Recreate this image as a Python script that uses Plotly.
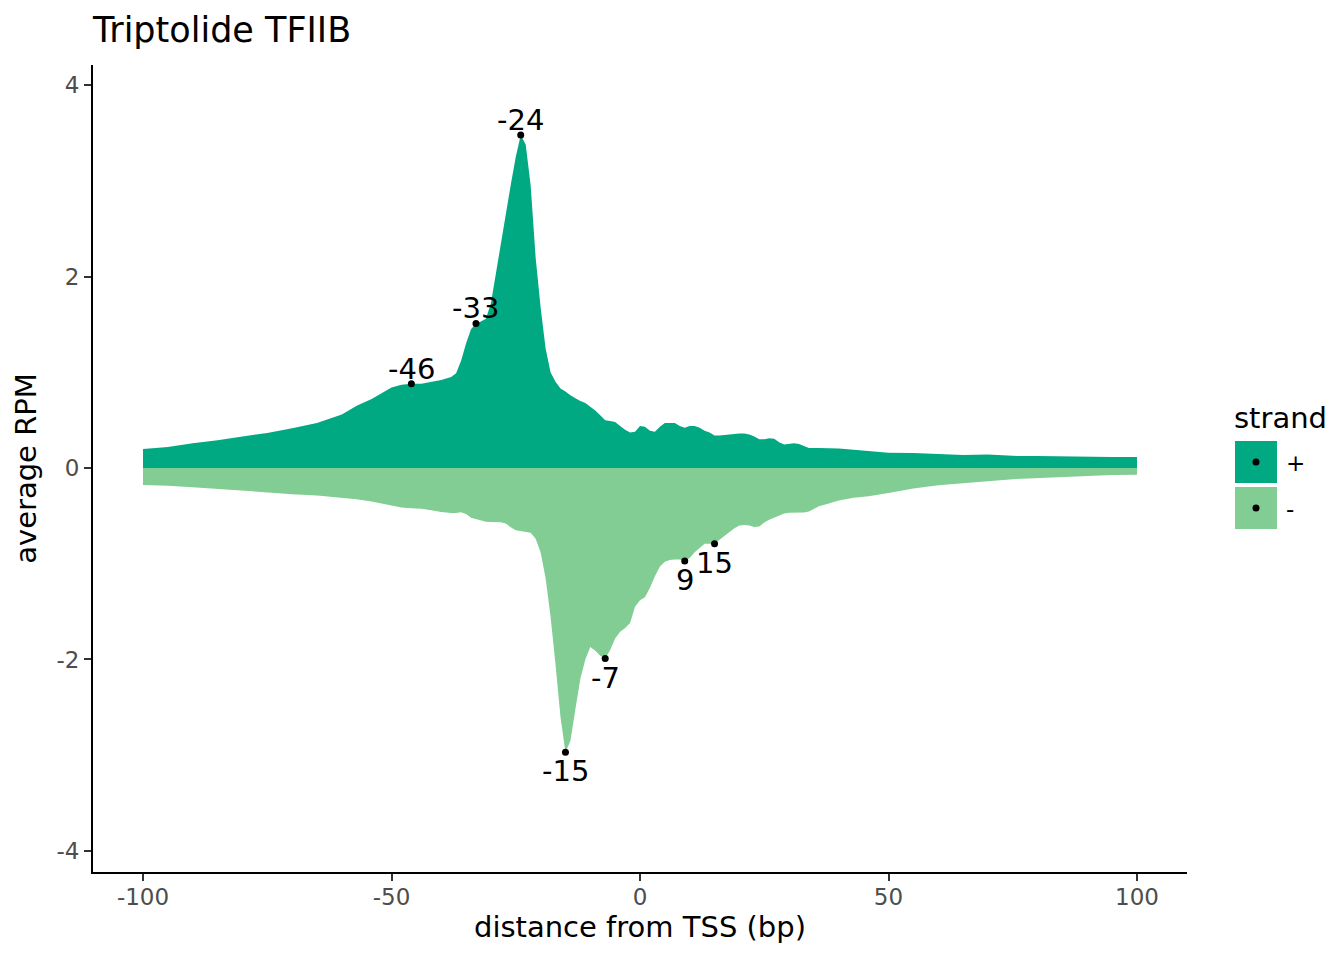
import plotly.graph_objects as go

# -- distance from TSS (bp) and average RPM per strand
position = [
    -100, -95, -90, -85, -80, -75, -70, -65, -60, -57,
    -54, -52, -50, -48, -46, -44, -42, -40, -38, -37,
    -36, -35, -34, -33, -32, -31, -30, -29, -28, -27,
    -26, -25, -24, -23, -22, -21, -20, -19, -18, -17,
    -16, -15, -14, -13, -12, -11, -10, -9, -8, -7,
    -6, -5, -4, -3, -2, -1, 0, 1, 2, 3,
    4, 5, 6, 7, 8, 9, 10, 11, 12, 13,
    14, 15, 16, 17, 18, 19, 20, 21, 22, 23,
    24, 25, 26, 27, 28, 29, 30, 31, 32, 33,
    34, 36, 38, 40, 43, 46, 50, 55, 60, 65,
    70, 75, 80, 85, 90, 95, 100,
]
plus_rpm = [
    0.20, 0.22, 0.26, 0.29, 0.33, 0.365, 0.415, 0.47, 0.56, 0.65,
    0.72, 0.78, 0.84, 0.87, 0.88, 0.88, 0.90, 0.92, 0.95, 0.99,
    1.12, 1.30, 1.45, 1.51, 1.53, 1.56, 1.72, 2.03, 2.37, 2.68,
    2.96, 3.25, 3.48, 3.38, 2.95, 2.20, 1.68, 1.25, 1.00, 0.90,
    0.83, 0.80, 0.76, 0.73, 0.70, 0.68, 0.64, 0.60, 0.55, 0.50,
    0.49, 0.48, 0.44, 0.40, 0.37, 0.38, 0.44, 0.43, 0.39, 0.38,
    0.43, 0.47, 0.47, 0.47, 0.44, 0.42, 0.44, 0.44, 0.42, 0.39,
    0.37, 0.34, 0.34, 0.345, 0.355, 0.36, 0.36, 0.36, 0.35, 0.33,
    0.30, 0.30, 0.31, 0.305, 0.27, 0.245, 0.25, 0.26, 0.25, 0.23,
    0.21, 0.21, 0.21, 0.205, 0.19, 0.175, 0.16, 0.157, 0.146, 0.136,
    0.14, 0.127, 0.125, 0.12, 0.115, 0.115, 0.115,
]
minus_rpm = [
    -0.178, -0.185, -0.20, -0.22, -0.24, -0.258, -0.273, -0.287, -0.31, -0.325,
    -0.35, -0.37, -0.395, -0.412, -0.42, -0.425, -0.44, -0.46, -0.47, -0.47,
    -0.462, -0.48, -0.52, -0.535, -0.55, -0.56, -0.565, -0.565, -0.567, -0.58,
    -0.62, -0.65, -0.66, -0.665, -0.675, -0.74, -0.88, -1.15, -1.55, -2.05,
    -2.60, -2.97, -2.85, -2.52, -2.20, -2.00, -1.87, -1.91, -1.96, -1.99,
    -1.90, -1.78, -1.71, -1.67, -1.62, -1.45, -1.38, -1.35, -1.25, -1.13,
    -1.03, -0.98, -0.96, -0.955, -0.955, -0.97, -0.94, -0.88, -0.83, -0.79,
    -0.79, -0.79, -0.75, -0.71, -0.67, -0.63, -0.60, -0.595, -0.60, -0.615,
    -0.61, -0.57, -0.54, -0.52, -0.495, -0.475, -0.466, -0.465, -0.47, -0.465,
    -0.455, -0.40, -0.37, -0.34, -0.31, -0.295, -0.26, -0.215, -0.18, -0.155,
    -0.137, -0.117, -0.105, -0.095, -0.082, -0.072, -0.07,
]

# -- labelled peaks
plus_peaks = [-46, -33, -24]
minus_peaks = [-15, -7, 9, 15]

strand_names = ["+", "-"]
strand_colors = ["#00A982", "#82CD93"]

x_tickvals = [-100, -50, 0, 50, 100]
x_ticktext = ["-100", "-50", "0", "50", "100"]
y_tickvals = [-4, -2, 0, 2, 4]
y_ticktext = ["-4", "-2", "0", "2", "4"]

FONT = "DejaVu Sans"
W, H = 1344, 960
# the page body adds 8px, so the figure is laid out 8px up/left of the target
OFF = 8
L, R, T, B = 93 - OFF, 157 + OFF, 65 - OFF, 88 + OFF

plus_lookup = dict(zip(position, plus_rpm))
minus_lookup = dict(zip(position, minus_rpm))
plus_peak_vals = [plus_lookup[p] for p in plus_peaks]
minus_peak_vals = [minus_lookup[p] for p in minus_peaks]

fig = go.Figure()

for values, color, name in zip([plus_rpm, minus_rpm], strand_colors, strand_names):
    fig.add_trace(
        go.Scatter(
            x=position,
            y=values,
            mode="lines",
            fill="tozeroy",
            fillcolor=color,
            line=dict(width=0, color=color),
            name=name,
            showlegend=False,
            hoverinfo="skip",
        )
    )

fig.add_trace(
    go.Scatter(
        x=plus_peaks + minus_peaks,
        y=plus_peak_vals + minus_peak_vals,
        mode="markers",
        marker=dict(color="black", size=7),
        showlegend=False,
    )
)

# -- peak labels
for p, v in zip(plus_peaks, plus_peak_vals):
    fig.add_annotation(
        x=p, y=v, text=str(p), showarrow=False, yshift=15,
        font=dict(family=FONT, size=29, color="black"),
    )
for p, v in zip(minus_peaks, minus_peak_vals):
    fig.add_annotation(
        x=p, y=v, text=str(p), showarrow=False, yshift=-19,
        font=dict(family=FONT, size=29, color="black"),
    )

# -- hand-built legend, ggplot style (positions given in target-page pixels)
pw, ph = W - L - R, H - T - B


def px_x(v):
    return (v - OFF - L) / pw


def px_y(v):
    return (H - B - (v - OFF)) / ph


fig.add_annotation(
    x=px_x(1232), y=px_y(418), xref="paper", yref="paper", text="strand",
    showarrow=False, xanchor="left", yanchor="middle",
    font=dict(family=FONT, size=29, color="black"),
)
key_tops = [441, 487]
for top, color, name in zip(key_tops, strand_colors, strand_names):
    fig.add_shape(
        type="rect", xref="paper", yref="paper",
        x0=px_x(1235), x1=px_x(1277), y0=px_y(top + 42), y1=px_y(top),
        fillcolor=color, line=dict(width=0),
    )
    fig.add_shape(
        type="circle", xref="paper", yref="paper",
        xsizemode="pixel", ysizemode="pixel",
        xanchor=px_x(1256), yanchor=px_y(top + 21),
        x0=-3.5, x1=3.5, y0=-3.5, y1=3.5,
        fillcolor="black", line=dict(width=0),
    )
    fig.add_annotation(
        x=px_x(1284), y=px_y(top + 22), xref="paper", yref="paper", text=name,
        showarrow=False, xanchor="left", yanchor="middle",
        font=dict(family=FONT, size=23, color="black"),
    )

axis_common = dict(
    showgrid=False,
    zeroline=False,
    showline=True,
    linecolor="black",
    linewidth=2,
    ticks="outside",
    ticklen=7,
    tickwidth=2,
    tickcolor="#333333",
    tickfont=dict(family=FONT, size=23, color="#4D4D4D"),
)

fig.update_layout(
    width=W,
    height=H,
    margin=dict(l=L, r=R, t=T, b=B),
    plot_bgcolor="white",
    paper_bgcolor="white",
    font=dict(family=FONT),
    title=dict(
        text="Triptolide TFIIB",
        x=L / W, xanchor="left", y=1 - (30 - OFF) / H, yanchor="middle",
        font=dict(family=FONT, size=35, color="black"),
    ),
    xaxis=dict(
        range=[-110.06, 110.06],
        tickvals=x_tickvals,
        ticktext=x_ticktext,
        ticklabelstandoff=-4,
        title=dict(
            text="distance from TSS (bp)", standoff=8,
            font=dict(family=FONT, size=29, color="black"),
        ),
        **axis_common,
    ),
    yaxis=dict(
        range=[-4.22, 4.21],
        tickvals=y_tickvals,
        ticktext=y_ticktext,
        title=dict(
            text="average RPM", standoff=11,
            font=dict(family=FONT, size=29, color="black"),
        ),
        **axis_common,
    ),
)

fig.write_html("out.html")
